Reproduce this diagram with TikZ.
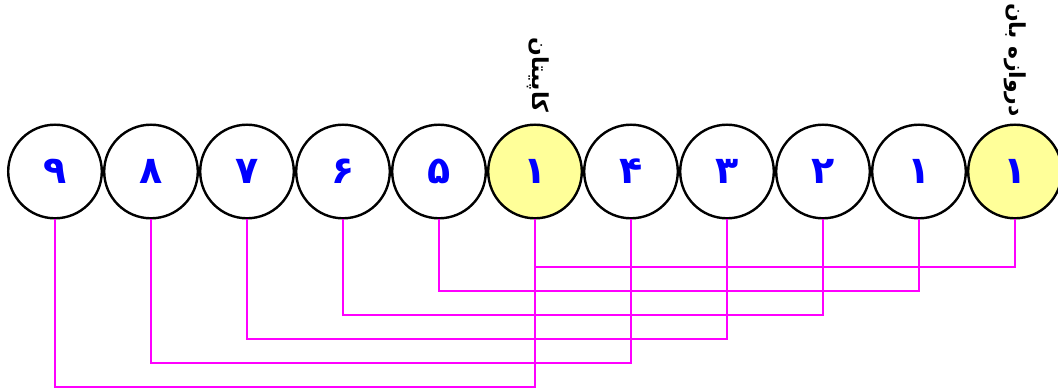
\documentclass[tikz,border=0pt]{standalone}
\usepackage{fontspec}
\setmainfont{DejaVu Sans}
\newfontfamily\arabicfont[Script=Arabic]{DejaVu Sans}
\TeXXeTstate=1
\definecolor{ballyellow}{HTML}{FFFF99}
\definecolor{linkmag}{HTML}{FF00FF}
\definecolor{digitblue}{HTML}{0000FF}
\tikzset{
  ball/.style={circle, draw=black, line width=2.4pt, minimum size=93.6pt, inner sep=0pt,
    fill=white, text=digitblue, font=\arabicfont\bfseries\fontsize{38}{38}\selectfont},
  keyball/.style={ball, fill=ballyellow},
  link/.style={draw=linkmag, line width=2pt},
  lbl/.style={rotate=-90, inner sep=0pt, text=black, font=\arabicfont\bfseries\fontsize{22}{22}\selectfont}
}
\begin{document}
\begin{tikzpicture}[x=1pt,y=-1pt]
\useasboundingbox[fill=white] (0,0) rectangle (1058,390);
\coordinate (y1) at (0,267);
\coordinate (y2) at (0,291);
\coordinate (y3) at (0,315);
\coordinate (y4) at (0,339);
\coordinate (y5) at (0,363);
\coordinate (y6) at (0,387);
% balls
\node[ball]    (n9)  at (55,171.5)  {۹};
\node[ball]    (n8)  at (151,171.5) {۸};
\node[ball]    (n7)  at (247,171.5) {۷};
\node[ball]    (n6)  at (343,171.5) {۶};
\node[ball]    (n5)  at (439,171.5) {۵};
\node[keyball] (cap) at (535,171.5) {۱};
\node[ball]    (n4)  at (631,171.5) {۴};
\node[ball]    (n3)  at (727,171.5) {۳};
\node[ball]    (n2)  at (823,171.5) {۲};
\node[ball]    (n1)  at (919,171.5) {۱};
\node[keyball] (gk)  at (1015,171.5) {۱};
% links
\draw[link] (cap.south) -- (cap.south |- y1) -| (gk.south);
\draw[link] (n5.south) -- (n5.south |- y2) -| (n1.south);
\draw[link] (n6.south) -- (n6.south |- y3) -| (n2.south);
\draw[link] (n7.south) -- (n7.south |- y4) -| (n3.south);
\draw[link] (n8.south) -- (n8.south |- y5) -| (n4.south);
\draw[link] (n9.south) -- (n9.south |- y6) -| (cap.south);
% labels
\node[lbl] (capl) at (538,75) {\beginR کاپیتان\endR};
\node[lbl] (gkl)  at (1015,60) {\beginR دروازه بان\endR};
\end{tikzpicture}
\end{document}
